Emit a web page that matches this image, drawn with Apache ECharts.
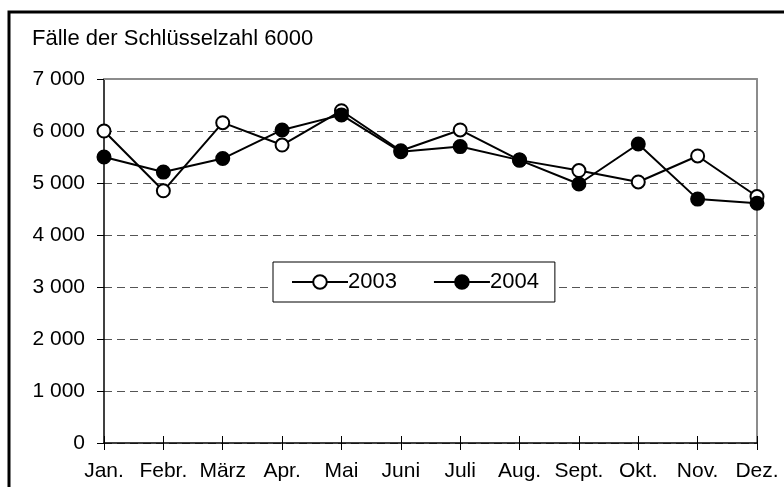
<!DOCTYPE html>
<html>
<head>
<meta charset="utf-8">
<script src="https://cdn.jsdelivr.net/npm/echarts@6/dist/echarts.min.js"></script>
<style>
  html, body { margin: 0; padding: 0; background: #fff; }
  #chart { width: 784px; height: 487px; }
</style>
</head>
<body>
<div id="chart"></div>
<script>
// Monate
const months = ['Jan.', 'Febr.', 'März', 'Apr.', 'Mai', 'Juni', 'Juli', 'Aug.', 'Sept.', 'Okt.', 'Nov.', 'Dez.'];
// Fälle der Schlüsselzahl 6000
const values2003 = [6000, 4850, 6160, 5730, 6390, 5620, 6020, 5440, 5240, 5020, 5520, 4740];
const values2004 = [5500, 5210, 5470, 6020, 6310, 5600, 5700, 5440, 4980, 5750, 4690, 4610];
const yTicks = [0, 7000, 1000]; // min, max, interval

const font = 'Liberation Sans, Arial, sans-serif';

//Tausender mit Leerzeichen
function fmt(v) {
    return String(v).replace(/\B(?=(\d{3})+$)/g, ' ');
}

const chart = echarts.init(document.getElementById('chart'), null, {renderer: 'canvas'});

chart.setOption({
    animation: false,
    backgroundColor: '#fff',
    textStyle: {fontFamily: font},
    title: {
        text: 'Fälle der Schlüsselzahl 6000',
        left: 32,
        top: 28,
        padding: 0,
        textStyle: {fontFamily: font, fontSize: 22, fontWeight: 'normal', color: '#000'}
    },
    graphic: [{
        type: 'rect',
        shape: {x: 9, y: 12, width: 800, height: 500},
        style: {fill: 'none', stroke: '#000', lineWidth: 3},
        silent: true
    }],
    legend: {
        data: ['2003', '2004'],
        left: 273,
        top: 262,
        itemWidth: 56,
        itemHeight: 17,
        itemGap: 36,
        padding: [9, 16, 9, 18],
        backgroundColor: '#fff',
        borderColor: '#000',
        borderWidth: 1,
        borderRadius: 0,
        textStyle: {fontFamily: font, fontSize: 22, color: '#000', padding: [0, 0, 0, -5]}
    },
    grid: {
        left: 104,
        right: 27,
        top: 79,
        bottom: 44,
        containLabel: false
    },
    xAxis: [{
        type: 'category',
        data: months,
        boundaryGap: false,
        position: 'bottom',
        axisLine: {lineStyle: {color: '#000', width: 1.5}},
        axisTick: {show: true, inside: false, length: 7, lineStyle: {color: '#000', width: 1}},
        axisLabel: {margin: 18, fontFamily: font, fontSize: 21, color: '#000', interval: 0},
        splitLine: {show: false}
    }, {
        type: 'category',
        data: months,
        boundaryGap: false,
        position: 'bottom',
        axisLine: {show: false},
        axisTick: {show: true, inside: true, length: 7, lineStyle: {color: '#000', width: 1}},
        axisLabel: {show: false},
        splitLine: {show: false}
    }, {
        type: 'category',
        data: months,
        boundaryGap: false,
        position: 'top',
        axisLine: {lineStyle: {color: '#8c8c8c', width: 2}},
        axisTick: {show: false},
        axisLabel: {show: false},
        splitLine: {show: false}
    }],
    yAxis: [{
        type: 'value',
        min: yTicks[0],
        max: yTicks[1],
        interval: yTicks[2],
        position: 'left',
        axisLine: {show: true, lineStyle: {color: '#000', width: 1.5}},
        axisTick: {show: true, length: 7, lineStyle: {color: '#000', width: 1}},
        axisLabel: {margin: 19, fontFamily: font, fontSize: 21, color: '#000', formatter: fmt},
        splitLine: {show: true, lineStyle: {color: '#555', width: 1, type: [8, 5]}}
    }, {
        type: 'value',
        min: yTicks[0],
        max: yTicks[1],
        interval: yTicks[2],
        position: 'right',
        axisLine: {show: true, lineStyle: {color: '#8c8c8c', width: 2}},
        axisTick: {show: false},
        axisLabel: {show: false},
        splitLine: {show: false}
    }],
    series: [{
        name: '2003',
        type: 'line',
        data: values2003,
        symbol: 'circle',
        symbolSize: 13,
        lineStyle: {color: '#000', width: 2},
        itemStyle: {color: '#fff', borderColor: '#000', borderWidth: 2}
    }, {
        name: '2004',
        type: 'line',
        data: values2004,
        symbol: 'circle',
        symbolSize: 13,
        lineStyle: {color: '#000', width: 2},
        itemStyle: {color: '#000', borderColor: '#000', borderWidth: 2}
    }]
});
</script>
</body>
</html>
